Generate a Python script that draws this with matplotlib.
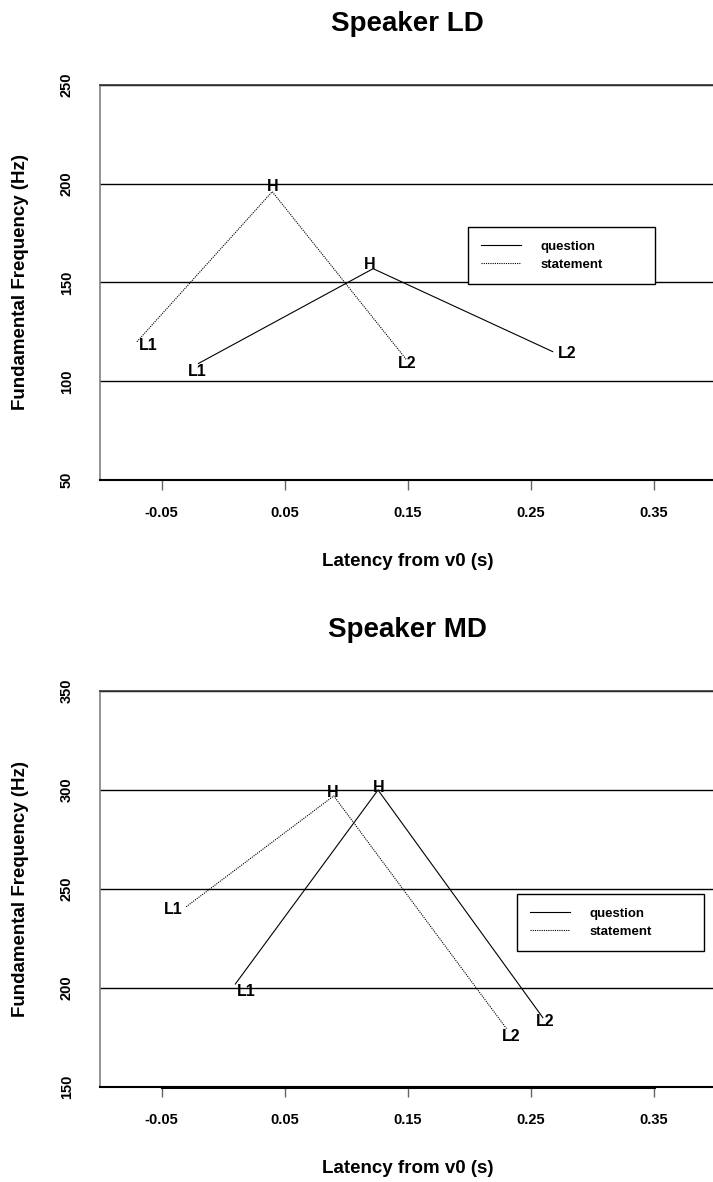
import matplotlib
matplotlib.use('Agg')
import matplotlib.pyplot as plt

plt.rcParams['font.family'] = ['Liberation Sans', 'DejaVu Sans']
plt.rcParams['font.weight'] = 'bold'

# tone targets, in order L1, H, L2
tone_labels = ['L1', 'H', 'L2']

ld_lat_question = [-0.020, 0.122, 0.268]
ld_f0_question = [109, 157, 115]
ld_lat_statement = [-0.070, 0.040, 0.149]
ld_f0_statement = [120, 196, 111]

md_lat_question = [0.010, 0.126, 0.260]
md_f0_question = [202, 300, 185]
md_lat_statement = [-0.030, 0.090, 0.231]
md_f0_statement = [241, 297, 179]

xticks = [-0.05, 0.05, 0.15, 0.25, 0.35]
xtick_labels = ['-0.05', '0.05', '0.15', '0.25', '0.35']
ld_yticks = [50, 100, 150, 200, 250]
md_yticks = [150, 200, 250, 300, 350]

# label nudges in pixels (dx right, dy down) from each target
ld_q_nudge = [(-1, 7), (-3, -5.6), (14, 0)]
ld_s_nudge = [(11, 2.5), (0, -7), (1, 2)]
md_q_nudge = [(11, 6.4), (0.7, -4), (2.5, 2)]
md_s_nudge = [(-13, 1), (-1, -4.6), (4, 5.6)]


def tone_labels_on(ax, xs, ys, nudges):
    for lab, x, y, (dx, dy) in zip(tone_labels, xs, ys, nudges):
        # baseline sits ~6 px under the cap centre
        ax.annotate(lab, xy=(x, y), xytext=(dx * 0.72, -(dy + 6) * 0.72),
                    textcoords='offset points', ha='center', va='baseline',
                    fontsize=11.5, fontweight='bold', annotation_clip=False)


def panel(ax, title, yticks, q_lat, q_f0, s_lat, s_f0, q_nudge, s_nudge,
          legend_box, heavy_axis=False):
    ax.set_xlim(-0.1, 0.4)
    ax.set_ylim(yticks[0], yticks[-1])

    ax.plot(q_lat, q_f0, color='black', lw=0.8, label='question')
    ax.plot(s_lat, s_f0, color='black', lw=0.8, linestyle=(0, (1, 1)),
            label='statement')
    tone_labels_on(ax, q_lat, q_f0, q_nudge)
    tone_labels_on(ax, s_lat, s_f0, s_nudge)

    ax.set_yticks(yticks)
    ax.set_yticklabels([str(v) for v in yticks])
    ax.set_xticks(xticks)
    ax.set_xticklabels(xtick_labels)
    ax.grid(axis='y', color='black', lw=1.0)
    ax.set_axisbelow(True)

    ax.tick_params(axis='x', direction='out', length=7, width=1,
                   color='#666666', pad=12, labelsize=10.5)
    ax.tick_params(axis='y', length=0, pad=19, labelsize=10.5,
                   labelrotation=90)
    for lab in ax.get_yticklabels():
        lab.set_va('center')
        lab.set_fontweight('bold')
    for lab in ax.get_xticklabels():
        lab.set_fontweight('bold')

    ax.spines['left'].set_color('#808080')
    ax.spines['left'].set_linewidth(1.2)
    ax.spines['bottom'].set_color('black')
    ax.spines['bottom'].set_linewidth(1.5)
    ax.spines['top'].set_color('#333333')
    ax.spines['top'].set_linewidth(1.2)
    ax.spines['right'].set_visible(False)

    if heavy_axis:
        ax.plot([xticks[0], xticks[-1]], [yticks[0], yticks[0]],
                color='black', lw=2.2, clip_on=False, zorder=5)

    ax.set_title(title, fontsize=20, fontweight='bold', y=1.155, va='center',
                 pad=0)
    ax.set_xlabel('Latency from v0 (s)', fontsize=13.5, fontweight='bold',
                  va='center')
    ax.xaxis.set_label_coords(0.5, -0.206)
    ax.set_ylabel('Fundamental Frequency (Hz)', fontsize=13.5,
                  fontweight='bold', va='center')
    ax.yaxis.set_label_coords(-0.130, 0.5)

    leg = ax.legend(loc='lower left', bbox_to_anchor=legend_box, mode='expand',
                    fontsize=9.5, frameon=True, fancybox=False, framealpha=1,
                    edgecolor='black', handlelength=3.0, handletextpad=1.5,
                    borderpad=1.0, labelspacing=0.45, borderaxespad=0)
    leg.get_frame().set_linewidth(1.0)
    for t in leg.get_texts():
        t.set_fontweight('bold')


fig = plt.figure(figsize=(7.13, 11.82), dpi=100)
ax_ld = fig.add_axes([0.1403, 0.5939, 0.8626, 0.3342])
ax_md = fig.add_axes([0.1403, 0.0804, 0.8626, 0.3350])

panel(ax_ld, 'Speaker LD', ld_yticks, ld_lat_question, ld_f0_question,
      ld_lat_statement, ld_f0_statement, ld_q_nudge, ld_s_nudge,
      (0.598, 0.496, 0.304, 0.155))
panel(ax_md, 'Speaker MD', md_yticks, md_lat_question, md_f0_question,
      md_lat_statement, md_f0_statement, md_q_nudge, md_s_nudge,
      (0.678, 0.343, 0.304, 0.154), heavy_axis=True)

fig.savefig('out.png', dpi=100)
